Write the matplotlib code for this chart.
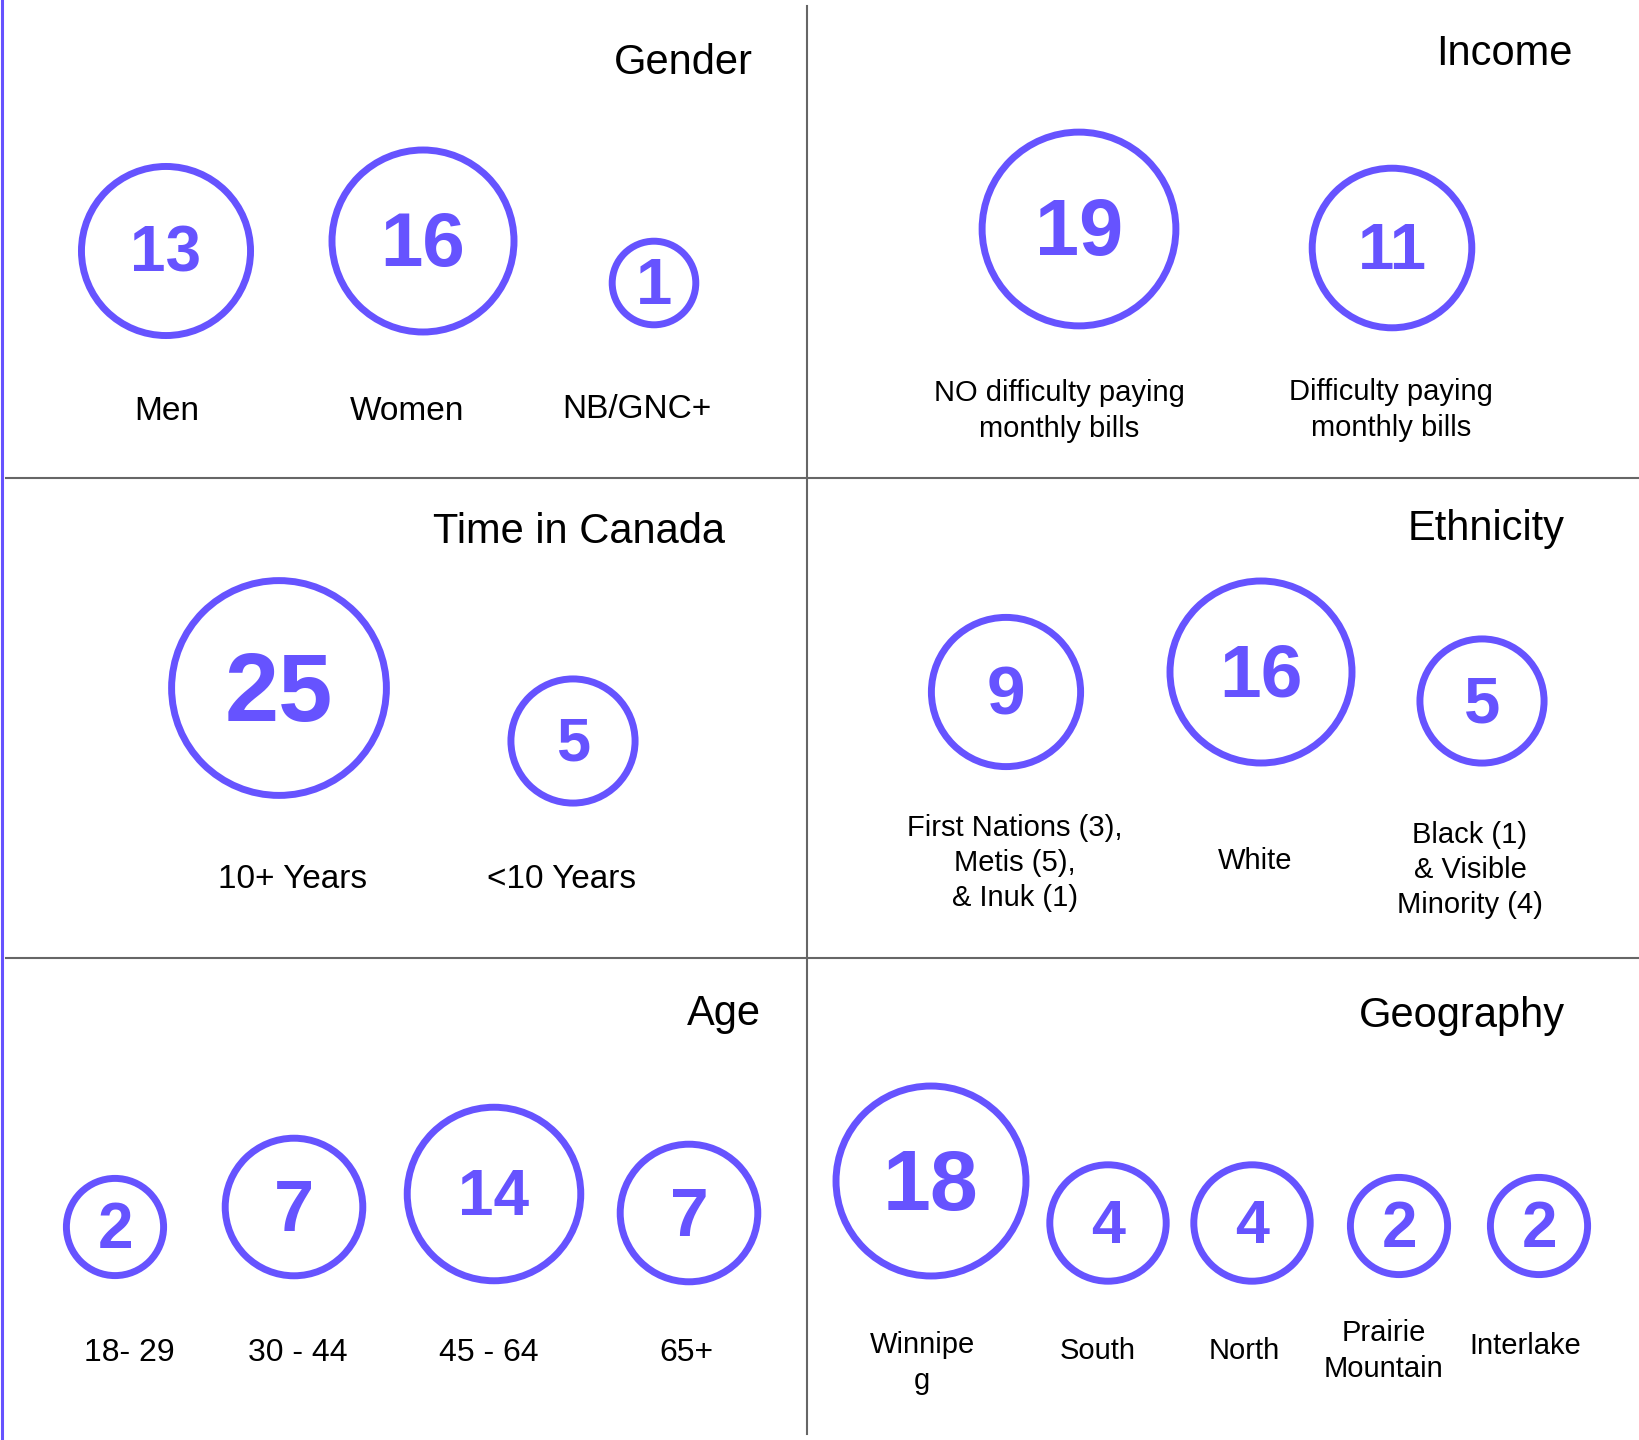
import numpy as np
import matplotlib.pyplot as plt
from matplotlib.patches import Circle

plt.rcParams['font.family'] = ['Liberation Sans', 'DejaVu Sans']

# --- data ---
gender_labels = ['Men', 'Women', 'NB/GNC+']
gender_counts = [13, 16, 1]

income_labels = ['NO difficulty paying\nmonthly bills', 'Difficulty paying\nmonthly bills']
income_counts = [19, 11]

time_labels = ['10+ Years', '<10 Years']
time_counts = [25, 5]

ethnicity_labels = ['First Nations (3),\nMetis (5),\n& Inuk (1)', 'White',
                    'Black (1)\n& Visible\nMinority (4)']
ethnicity_counts = [9, 16, 5]

age_labels = ['18- 29', '30 - 44', '45 - 64', '65+']
age_counts = [2, 7, 14, 7]

geo_labels = ['Winnipe\ng', 'South', 'North', 'Prairie\nMountain', 'Interlake']
geo_counts = [18, 4, 4, 2, 2]

# --- layout (pixels) ---
W, H = 1639, 1440
purple = '#6653FF'
grey = '#666666'

panels = [
    dict(title='Gender', labels=gender_labels, counts=gender_counts, tpos=(753, 63),
         cx=[166, 423, 654], cy=[251, 241, 283], lx=[167, 407, 637], ly=[411, 412, 409],
         lfs=24, nfs=[46, 55, 47]),
    dict(title='Income', labels=income_labels, counts=income_counts, tpos=(1573, 54),
         cx=[1079, 1392], cy=[229, 248], lx=[1059, 1391], ly=[411, 410],
         lfs=21, nfs=[57, 47]),
    dict(title='Time in Canada', labels=time_labels, counts=time_counts, tpos=(725, 532),
         cx=[279, 573], cy=[688, 741], lx=[293, 562], ly=[879, 879],
         lfs=24, nfs=[70, 44]),
    dict(title='Ethnicity', labels=ethnicity_labels, counts=ethnicity_counts, tpos=(1565, 529),
         cx=[1006, 1261, 1482], cy=[692, 672, 701], lx=[1015, 1255, 1470], ly=[863, 861, 870],
         lfs=21, nfs=[50, 54, 47]),
    dict(title='Age', labels=age_labels, counts=age_counts, tpos=(761, 1014),
         cx=[115, 294, 494, 689], cy=[1227, 1207, 1194, 1213], lx=[129, 298, 489, 686],
         ly=[1353, 1353, 1353, 1353], lfs=23, nfs=[46, 52, 46, 50]),
    dict(title='Geography', labels=geo_labels, counts=geo_counts, tpos=(1565, 1016),
         cx=[931, 1108, 1252, 1399, 1539], cy=[1181, 1223, 1223, 1226, 1226],
         lx=[922, 1098, 1244, 1384, 1525], ly=[1363, 1351, 1351, 1351, 1346],
         lfs=21, nfs=[62, 44, 44, 46, 46]),
]


def radius(v):
    # circle radius grows with the square root of the count
    return 25.4 + 16.4 * np.sqrt(v)


fig = plt.figure(figsize=(W / 100, H / 100), dpi=100)
ax = fig.add_axes([0, 0, 1, 1])
ax.set_xlim(0, W)
ax.set_ylim(H, 0)
ax.set_aspect('equal')
ax.axis('off')

# grid separating the six panels
ax.plot([807, 807], [6, 1434], color=grey, lw=1.5)
ax.plot([6, W], [478, 478], color=grey, lw=1.5)
ax.plot([6, W], [958, 958], color=grey, lw=1.5)
ax.plot([1.5, 1.5], [0, H], color=purple, lw=2.2)

for p in panels:
    ax.text(p['tpos'][0], p['tpos'][1], p['title'], fontsize=30,
            ha='right', va='center', color='black')
    for i, (lab, v) in enumerate(zip(p['labels'], p['counts'])):
        ax.add_patch(Circle((p['cx'][i], p['cy'][i]), radius(v), fill=False,
                            edgecolor=purple, lw=5))
        fs = p['nfs'][i]
        # baseline placed so the digits sit centred in the circle
        ax.text(p['cx'][i], p['cy'][i] + 0.497 * fs - 2, str(v), fontsize=fs,
                fontweight='bold', color=purple, ha='center', va='baseline')
        ax.text(p['lx'][i], p['ly'][i], lab, fontsize=p['lfs'], ha='center',
                va='center', multialignment='center', linespacing=1.32, color='black')

fig.savefig('out.png', dpi=100, facecolor='white')
